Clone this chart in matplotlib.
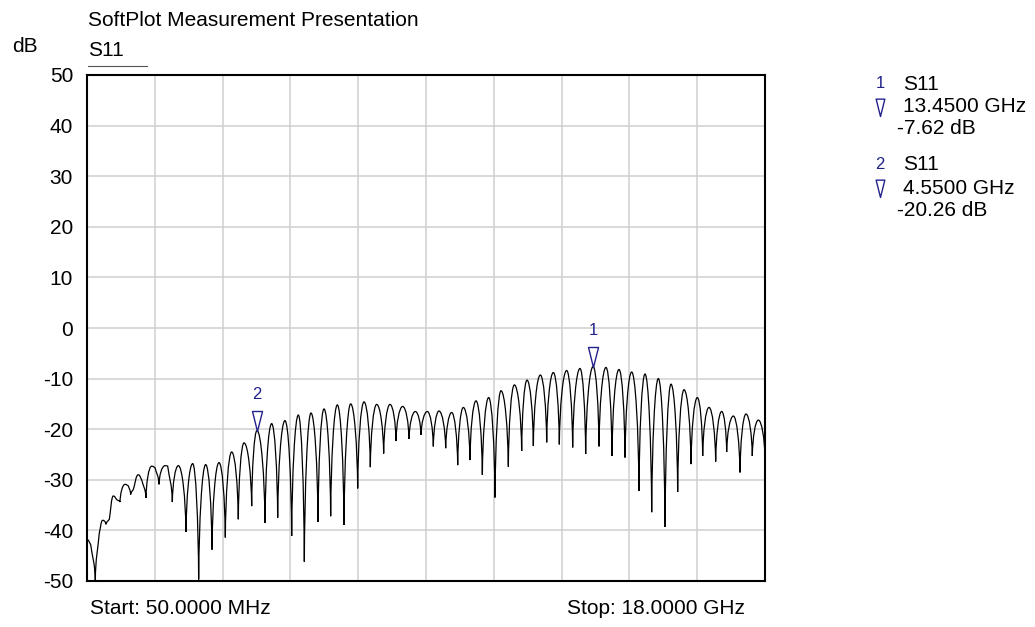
import numpy as np
import matplotlib
matplotlib.use("Agg")
import matplotlib.pyplot as plt
from matplotlib.path import Path
from matplotlib.patches import PathPatch

plt.rcParams['font.family'] = ['Liberation Sans', 'DejaVu Sans']

# S11 trace, frequency in GHz and level in dB (peaks and nulls)
freq_ghz = [
    0.05, 0.147, 0.27, 0.376, 0.465, 0.553, 0.641, 0.747, 0.835, 0.924,
    1.056, 1.144, 1.206, 1.277, 1.409, 1.497, 1.612, 1.762, 1.850, 1.956,
    2.115, 2.186, 2.309, 2.468, 2.671, 2.848, 3.006, 3.192, 3.359, 3.545,
    3.712, 3.880, 4.056, 4.207, 4.410, 4.55,
    4.763, 4.939, 5.098, 5.292, 5.469, 5.645, 5.804, 5.980, 6.166, 6.325,
    6.501, 6.678, 6.854, 7.031, 7.216, 7.384, 7.551, 7.719, 7.904, 8.072,
    8.231, 8.407, 8.575, 8.742, 8.893, 9.060,
    9.219, 9.369, 9.546, 9.705, 9.864, 10.013, 10.190, 10.349, 10.517, 10.684,
    10.852, 11.011, 11.205, 11.364, 11.558, 11.699, 11.867, 12.052, 12.220, 12.396,
    12.555, 12.749, 12.908, 13.102, 13.252, 13.45,
    13.605, 13.790, 13.949, 14.135, 14.294, 14.470, 14.664, 14.823, 15.000, 15.176,
    15.353, 15.511, 15.688, 15.856, 16.041, 16.209, 16.350, 16.518, 16.694, 16.853,
    16.985, 17.162, 17.338, 17.497, 17.664, 17.823, 18.0,
]
s11_db = [
    -41.8, -42.8, -50.0, -40.5, -38.0, -38.8, -37.8, -33.2, -33.9, -34.4,
    -30.9, -31.2, -32.9, -31.9, -29.0, -30.0, -33.6, -27.3, -27.6, -30.9,
    -27.2, -27.3, -34.4, -27.2, -40.3, -26.8, -49.7, -27.0, -43.8, -26.6,
    -41.4, -24.5, -37.8, -22.7, -35.2, -20.26,
    -38.5, -18.9, -37.5, -18.3, -41.1, -17.2, -46.2, -16.8, -38.3, -16.0,
    -37.2, -15.2, -38.9, -15.0, -31.7, -14.6, -27.5, -15.1, -24.8, -15.1,
    -22.3, -15.5, -21.9, -16.5, -21.1, -16.5,
    -23.4, -16.4, -23.75, -16.7, -27.1, -15.7, -26.1, -14.4, -29.0, -13.75,
    -33.5, -12.4, -27.4, -11.25, -24.3, -10.3, -23.3, -9.3, -22.6, -8.8,
    -23.0, -8.4, -23.6, -8.0, -24.9, -7.62,
    -23.4, -7.8, -25.3, -8.2, -25.6, -8.7, -32.2, -9.1, -36.4, -10.0,
    -39.3, -11.1, -32.4, -12.2, -26.9, -13.75, -25.3, -15.7, -26.4, -16.5,
    -24.5, -17.4, -28.55, -17.0, -25.3, -18.2, -25.6,
]

marker_ids = ["1", "2"]
marker_freq = [13.45, 4.55]
marker_db = [-7.62, -20.26]
marker_freq_txt = ["13.4500 GHz", "4.5500 GHz"]
marker_db_txt = ["-7.62 dB", "-20.26 dB"]

y_ticks = [50, 40, 30, 20, 10, 0, -10, -20, -30, -40, -50]
f_start, f_stop = 0.05, 18.0

W, H = 1035, 627
mk_col = '#22228c'
grid_col = '#cfcfcf'


def fx(x):
    return x / W


def fy(y):
    return 1 - y / H


def trace_path(xs, ys):
    # draw the trace as bezier segments: rounded at the maxima, sharp at the nulls
    n = len(xs)
    kind = []
    for i in range(n):
        lo = ys[i - 1] if i > 0 else None
        hi = ys[i + 1] if i < n - 1 else None
        nb = [v for v in (lo, hi) if v is not None]
        if all(ys[i] > v for v in nb):
            kind.append('max')
        elif all(ys[i] < v for v in nb):
            kind.append('min')
        else:
            kind.append('mid')
    verts = [(xs[0], ys[0])]
    codes = [Path.MOVETO]
    for i in range(n - 1):
        x0, y0, x1, y1 = xs[i], ys[i], xs[i + 1], ys[i + 1]
        dx, dy = x1 - x0, y1 - y0
        if kind[i] == 'max':
            c1 = (x0 + 0.5 * dx, y0)
        elif kind[i] == 'min':
            c1 = (x0 + 0.05 * dx, y0 + 0.5 * dy)
        else:
            c1 = (x0 + dx / 3, y0 + dy / 3)
        if kind[i + 1] == 'max':
            c2 = (x1 - 0.5 * dx, y1)
        elif kind[i + 1] == 'min':
            c2 = (x1 - 0.05 * dx, y1 - 0.5 * dy)
        else:
            c2 = (x1 - dx / 3, y1 - dy / 3)
        verts += [c1, c2, (x1, y1)]
        codes += [Path.CURVE4] * 3
    return Path(verts, codes)


fig = plt.figure(figsize=(W / 100, H / 100), dpi=100)
ax = fig.add_axes([fx(87), fy(581), fx(765) - fx(87), fy(75) - fy(581)])

ax.add_patch(PathPatch(trace_path(freq_ghz, s11_db), fc='none', ec='black',
                       lw=0.9, zorder=3))

ax.set_xlim(f_start, f_stop)
ax.set_ylim(-50, 50)
ax.set_xticks(np.linspace(f_start, f_stop, 11))
ax.set_xticklabels([])
ax.set_yticks(y_ticks)
ax.set_yticklabels([str(v) for v in y_ticks], fontsize=15)
ax.tick_params(length=0, pad=10)
ax.grid(True, color=grid_col, lw=1.1)
ax.set_axisbelow(True)
for s in ax.spines.values():
    s.set_linewidth(1.5)
    s.set_zorder(5)

# down triangle marker, tip at the data point
tri = Path([(-5, 20), (5, 20), (0, 0), (-5, 20)],
           [Path.MOVETO, Path.LINETO, Path.LINETO, Path.CLOSEPOLY])

for mid, f, d in zip(marker_ids, marker_freq, marker_db):
    ax.plot([f], [d], marker=tri, ms=28.8, mfc='none', mec=mk_col, mew=1.0,
            ls='none', zorder=4)
    ax.annotate(mid, (f, d), xytext=(0, 36), textcoords='offset pixels',
                ha='center', va='center', color=mk_col, fontsize=12)

# header texts
fig.text(fx(88), fy(20), "SoftPlot Measurement Presentation", fontsize=15,
         ha='left', va='center')
fig.text(fx(12), fy(47), "dB", fontsize=15, ha='left', va='center')
fig.text(fx(88), fy(50), "S11", fontsize=15, ha='left', va='center')
fig.add_artist(plt.Line2D([fx(88), fx(147)], [fy(66), fy(66)], color='#555555',
                          lw=0.8, transform=fig.transFigure))

# footer
fig.text(fx(90), fy(608), "Start: 50.0000 MHz", fontsize=15, ha='left', va='center')
fig.text(fx(745), fy(608), "Stop: 18.0000 GHz", fontsize=15, ha='right', va='center')

# marker readout on the right
rows_y = [84, 165]
for i, y0 in enumerate(rows_y):
    fig.text(fx(880), fy(y0), marker_ids[i], fontsize=12, color=mk_col,
             ha='center', va='center')
    fig.text(fx(903), fy(y0), "S11", fontsize=15, ha='left', va='center')
    ax.plot([fx(880)], [fy(y0 + 32)], marker=tri, ms=25, mfc='none', mec=mk_col,
            mew=1.0, transform=fig.transFigure, clip_on=False)
    fig.text(fx(903), fy(y0 + 23), marker_freq_txt[i], fontsize=15,
             ha='left', va='center')
    fig.text(fx(897), fy(y0 + 45), marker_db_txt[i], fontsize=15,
             ha='left', va='center')

fig.savefig("out.png", dpi=100)
